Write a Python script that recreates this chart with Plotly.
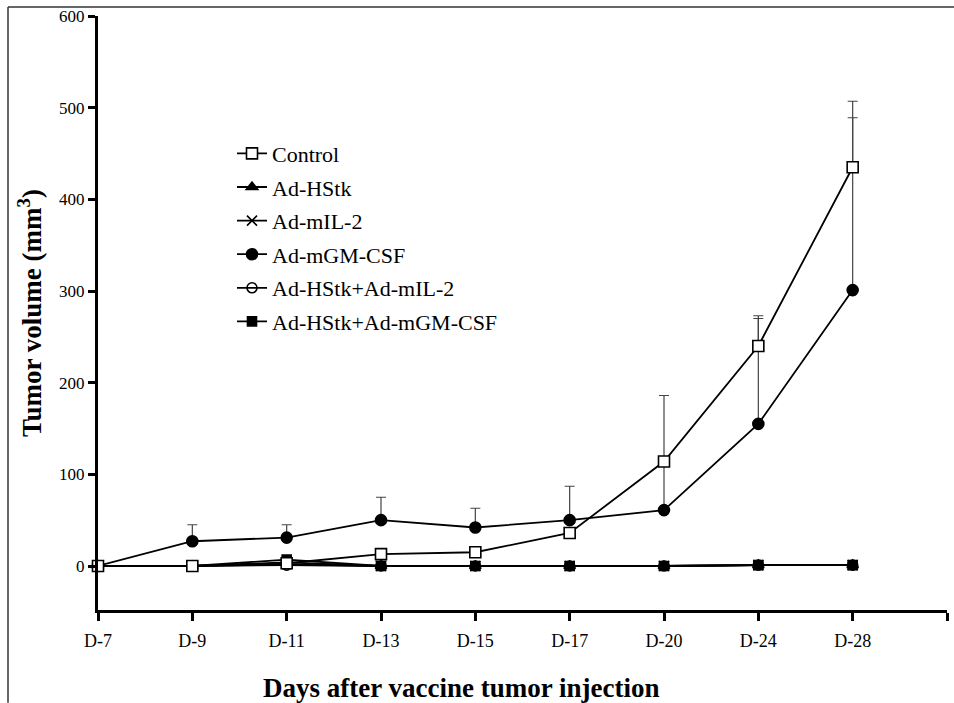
import plotly.graph_objects as go

days = ["D-7", "D-9", "D-11", "D-13", "D-15", "D-17", "D-20", "D-24", "D-28"]
x_pos = list(range(len(days)))

control = [0, 0, 3, 13, 15, 36, 114, 240, 435]
control_err = [0, 0, 0, 0, 0, 0, 0, 33, 72]
hstk = [0, 0, 4, 0, 0, 0, 0, 1, 1]
mil2 = [0, 0, 2, 0, 0, 0, 0, 1, 1]
gmcsf = [0, 27, 31, 50, 42, 50, 61, 155, 301]
gmcsf_err = [0, 18, 14, 25, 21, 37, 125, 115, 188]
hstk_mil2 = [0, 0, 1, 0, 0, 0, 0, 1, 1]
hstk_gm = [0, 0, 7, 0, 0, 0, 0, 1, 1]

y_ticks = [0, 100, 200, 300, 400, 500, 600]

SERIF = "'Liberation Serif', 'Times New Roman', serif"
fig = go.Figure()

def add(name, y, symbol, size, fill, rank, err=None):
    kw = {}
    if err is not None:
        kw["error_y"] = dict(type="data", array=err, arrayminus=[0]*len(err), symmetric=False,
                             color="#444", thickness=1.2, width=5)
    fig.add_trace(go.Scatter(
        x=x_pos, y=y, name=name, mode="lines+markers",
        line=dict(color="black", width=1.8),
        marker=dict(symbol=symbol, size=size, color=fill,
                    line=dict(color="black", width=1.6)),
        cliponaxis=False, legendrank=rank, legendgroup=name, **kw))

add("Ad-HStk+Ad-mIL-2", hstk_mil2, "circle-open", 10, "black", 5)
add("Ad-mIL-2", mil2, "x-thin-open", 10, "black", 3)
add("Ad-HStk", hstk, "triangle-up", 10, "black", 2)
add("Ad-HStk+Ad-mGM-CSF", hstk_gm, "square", 9, "black", 6)
add("Ad-mGM-CSF", gmcsf, "circle", 11, "black", 4, gmcsf_err)
add("Control", control, "square", 11, "white", 1, control_err)

fig.update_layout(
    width=954, height=703, autosize=False,
    margin=dict(l=98, r=7, t=14, b=93),
    paper_bgcolor="white", plot_bgcolor="white",
    font=dict(family=SERIF, color="black"),
    showlegend=True,
    legend=dict(x=(232 - 98) / 849, y=(610 - 131) / 596, xanchor="left", yanchor="top",
                font=dict(family=SERIF, size=22, color="black"),
                bgcolor="rgba(0,0,0,0)", tracegroupgap=2, itemwidth=30),
    xaxis=dict(range=[0, 9], tickmode="array", tickvals=list(range(10)),
               ticktext=days + [""], showline=True, linewidth=3, linecolor="black",
               ticks="outside", ticklen=8, tickwidth=3, tickcolor="black",
               showgrid=False, zeroline=False, ticklabelstandoff=4,
               tickfont=dict(family=SERIF, size=18, color="black")),
    yaxis=dict(range=[-48, 600], tickmode="array", tickvals=y_ticks,
               showline=True, linewidth=3, linecolor="black",
               ticks="outside", ticklen=7, tickwidth=3, tickcolor="black",
               showgrid=False, zeroline=False,
               tickfont=dict(family=SERIF, size=17, color="black"),
               title=dict(text="<b>Tumor volume (mm<sup>3</sup>)</b>",
                          font=dict(family=SERIF, size=27, color="black"), standoff=10)),
    annotations=[
        dict(text="<b>Days after vaccine tumor injection</b>", xref="paper", yref="paper",
             x=(461 - 98) / 849, y=(610 - 688) / 596, xanchor="center", yanchor="middle",
             showarrow=False, font=dict(family=SERIF, size=27, color="black")),
    ],
    shapes=[
        dict(type="line", xref="paper", yref="paper",
             x0=(8 - 98) / 849, x1=(954 - 98) / 849, y0=(610 - 5) / 596, y1=(610 - 5) / 596,
             line=dict(color="#333", width=1.5)),
        dict(type="line", xref="paper", yref="paper",
             x0=(8 - 98) / 849, x1=(8 - 98) / 849, y0=(610 - 5) / 596, y1=(610 - 703) / 596,
             line=dict(color="#333", width=1.5)),
    ],
)

fig.write_html("out.html")
